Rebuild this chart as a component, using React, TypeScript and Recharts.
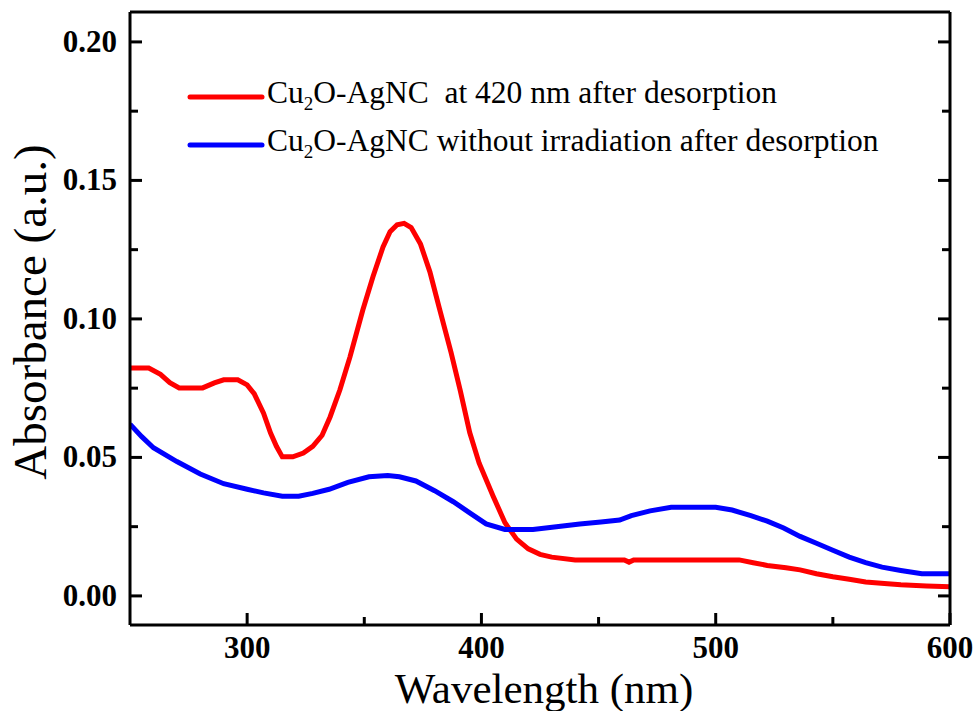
import { LineChart, Line, XAxis, YAxis, Legend, Label } from "recharts"

const redWavelength = [250, 258, 263, 267, 271, 281, 286, 290, 296, 300, 303, 307, 310, 312.5, 315, 319.5, 324, 328, 332, 335.4, 339.6, 343.9, 349.4, 353.7, 358, 361, 364, 367, 370, 374, 378, 382, 387, 391, 395, 399, 405, 410, 415, 420, 425, 430, 440, 461, 463, 465, 510, 516, 522, 530, 536, 543, 550, 557, 564, 572, 579, 590, 600]
const redAbsorbance = [0.0823, 0.0823, 0.08, 0.077, 0.0751, 0.0751, 0.0769, 0.078, 0.078, 0.0762, 0.073, 0.066, 0.0588, 0.054, 0.0502, 0.0502, 0.0516, 0.054, 0.058, 0.0646, 0.0744, 0.0863, 0.1033, 0.1152, 0.126, 0.1315, 0.134, 0.1345, 0.133, 0.127, 0.117, 0.104, 0.088, 0.074, 0.059, 0.048, 0.036, 0.0265, 0.0205, 0.017, 0.015, 0.014, 0.013, 0.013, 0.0122, 0.013, 0.013, 0.012, 0.011, 0.0102, 0.0094, 0.008, 0.0069, 0.006, 0.005, 0.0045, 0.004, 0.0036, 0.0033]

const blueWavelength = [250, 255, 260, 270, 280, 290, 300, 307, 315, 322, 328, 335, 343, 352, 360, 365, 372, 380, 388, 395, 402, 410, 422, 432, 442, 451, 459, 464, 472, 481, 500, 507, 515, 522, 529, 536, 543, 550, 557, 564, 571, 579, 588, 600]
const blueAbsorbance = [0.062, 0.0575, 0.0535, 0.0485, 0.044, 0.0405, 0.0385, 0.0372, 0.036, 0.036, 0.037, 0.0385, 0.041, 0.043, 0.0435, 0.043, 0.0415, 0.038, 0.034, 0.03, 0.026, 0.024, 0.024, 0.025, 0.026, 0.0267, 0.0274, 0.029, 0.0307, 0.032, 0.032, 0.031, 0.029, 0.027, 0.0245, 0.0215, 0.019, 0.0165, 0.014, 0.012, 0.0104, 0.0092, 0.008, 0.008]

const xTicks = [300, 350, 400, 450, 500, 550, 600]
const yTicks = [0, 0.025, 0.05, 0.075, 0.1, 0.125, 0.15, 0.175, 0.2]

const redData = redWavelength.map((w, i) => ({ w, a: redAbsorbance[i] }))
const blueData = blueWavelength.map((w, i) => ({ w, a: blueAbsorbance[i] }))

const FONT = "'Liberation Serif', 'Times New Roman', serif"

const isMajorX = (v: number) => v % 100 === 0
const isMajorY = (v: number) => Math.abs(v / 0.05 - Math.round(v / 0.05)) < 1e-6

function BottomTick({ x, y, payload }: any) {
  const major = isMajorX(payload.value)
  return (
    <g>
      <line x1={x} y1={y} x2={x} y2={y - (major ? 12 : 8)} stroke="#000" strokeWidth={3} />
      {major && (
        <text x={x} y={y + 33} textAnchor="middle" fontFamily={FONT} fontWeight="bold" fontSize={31} fill="#000">
          {payload.value}
        </text>
      )}
    </g>
  )
}

function TopTick({ x, y, payload }: any) {
  const major = isMajorX(payload.value)
  return <line x1={x} y1={y} x2={x} y2={y + (major ? 12 : 8)} stroke="#000" strokeWidth={3} />
}

function LeftTick({ x, y, payload }: any) {
  const major = isMajorY(payload.value)
  return (
    <g>
      <line x1={x} y1={y} x2={x + (major ? 12 : 8)} y2={y} stroke="#000" strokeWidth={3} />
      {major && (
        <text x={x - 13} y={y + 10} textAnchor="end" fontFamily={FONT} fontWeight="bold" fontSize={31} fill="#000">
          {payload.value.toFixed(2)}
        </text>
      )}
    </g>
  )
}

function RightTick({ x, y, payload }: any) {
  const major = isMajorY(payload.value)
  return <line x1={x} y1={y} x2={x - (major ? 12 : 8)} y2={y} stroke="#000" strokeWidth={3} />
}

const sub2 = <sub style={{ fontSize: 19, verticalAlign: "-7px", lineHeight: 0 }}>2</sub>

const legendRows = [
  { color: "#ff0000", label: <>Cu{sub2}O-AgNC&nbsp; at 420 nm after desorption</> },
  { color: "#0000ff", label: <>Cu{sub2}O-AgNC without irradiation after desorption</> },
]

function LegendBox() {
  return (
    <div style={{ fontFamily: FONT, fontSize: 31.5, color: "#000" }}>
      {legendRows.map((r, i) => (
        <div key={i} style={{ display: "flex", alignItems: "center", height: 48 }}>
          <svg width={80} height={10} style={{ flex: "none" }}>
            <line x1={3} y1={5} x2={75} y2={5} stroke={r.color} strokeWidth={5} strokeLinecap="round" />
          </svg>
          <span style={{ lineHeight: "30px", whiteSpace: "nowrap", position: "relative", top: -4 }}>{r.label}</span>
        </div>
      ))}
    </div>
  )
}

export default function App() {
  return (
    <div style={{ position: "absolute", left: 0, top: 0, background: "#fff" }}>
      <LineChart width={978} height={711} margin={{ top: 11, right: 27, bottom: 0, left: 0 }}>
        <XAxis
          dataKey="w"
          type="number"
          domain={[250, 600]}
          ticks={xTicks}
          allowDataOverflow
          height={86}
          tickSize={0}
          tickMargin={0}
          tickLine={false}
          axisLine={{ stroke: "#000", strokeWidth: 3 }}
          tick={<BottomTick />}
          interval={0}
        >
          <Label
            content={() => (
              <text x={544} y={703} textAnchor="middle" fontFamily={FONT} fontSize={43} fill="#000">
                Wavelength (nm)
              </text>
            )}
          />
        </XAxis>
        <XAxis
          xAxisId="top"
          orientation="top"
          type="number"
          domain={[250, 600]}
          ticks={xTicks}
          allowDataOverflow
          height={1}
          tickSize={0}
          tickMargin={0}
          tickLine={false}
          axisLine={{ stroke: "#000", strokeWidth: 3 }}
          tick={<TopTick />}
          interval={0}
        />
        <YAxis
          type="number"
          domain={[-0.0105, 0.2108]}
          ticks={yTicks}
          allowDataOverflow
          width={130}
          tickSize={0}
          tickMargin={0}
          tickLine={false}
          axisLine={{ stroke: "#000", strokeWidth: 3 }}
          tick={<LeftTick />}
          interval={0}
        >
          <Label
            content={() => (
              <text
                x={0}
                y={0}
                transform="translate(46 312) rotate(-90)"
                textAnchor="middle"
                fontFamily={FONT}
                fontSize={47}
                fill="#000"
              >
                Absorbance (a.u.)
              </text>
            )}
          />
        </YAxis>
        <YAxis
          yAxisId="right"
          orientation="right"
          type="number"
          domain={[-0.0105, 0.2108]}
          ticks={yTicks}
          allowDataOverflow
          width={1}
          tickSize={0}
          tickMargin={0}
          tickLine={false}
          axisLine={{ stroke: "#000", strokeWidth: 3 }}
          tick={<RightTick />}
          interval={0}
        />
        <Legend
          layout="horizontal"
          verticalAlign="middle"
          align="center"
          content={() => <LegendBox />}
          wrapperStyle={{ position: "absolute", top: 73, left: 187, width: 760 }}
        />
        <Line
          data={redData}
          dataKey="a"
          type="linear"
          stroke="#ff0000"
          strokeWidth={5}
          dot={false}
          isAnimationActive={false}
        />
        <Line
          data={blueData}
          dataKey="a"
          type="linear"
          stroke="#0000ff"
          strokeWidth={5}
          dot={false}
          isAnimationActive={false}
        />
      </LineChart>
    </div>
  )
}
